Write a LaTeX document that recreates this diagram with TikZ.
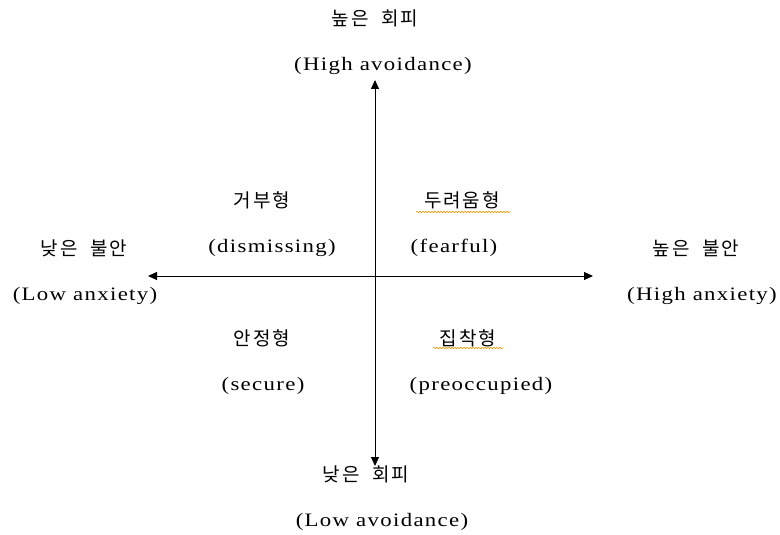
\documentclass[tikz,border=0pt]{standalone}
\usepackage{fontspec}
\setmainfont{Liberation Serif}
\newfontfamily\kor[LetterSpace=10]{Noto Sans CJK KR}
\newfontfamily\lat[LetterSpace=7,FakeStretch=1.2]{Liberation Serif}
\usetikzlibrary{arrows.meta,decorations.pathmorphing}
\tikzset{
  ko/.style={font=\kor\fontsize{19}{22}\selectfont, inner sep=0pt, anchor=center},
  en/.style={font=\lat\fontsize{19}{22}\selectfont, inner sep=0pt, anchor=center},
  axis/.style={line width=1pt, {Triangle[length=9pt,width=8pt]}-{Triangle[length=9pt,width=8pt]}},
  spell/.style={draw=orange!80!yellow, line width=0.6pt, decorate, decoration={snake, amplitude=0.8pt, segment length=3pt}}
}
\newcommand{\wsp}{\hspace{0.65em}}
\begin{document}
\begin{tikzpicture}[x=1pt,y=-1pt]
\useasboundingbox (0,0) rectangle (780,535);
% axes
\coordinate (vtop) at (375,80);
\coordinate (vbot) at (375,466);
\coordinate (hleft) at (148,276);
\coordinate (hright) at (593,276);
\draw[axis] (vbot) -- (vtop);
\draw[axis] (hleft) -- (hright);
% labels
\node[ko] (hiav) at (375,18) {높은\wsp 회피};
\node[en] (hiaven) at (383,66) {(High avoidance)};
\node[ko] (loav) at (366,474) {낮은\wsp 회피};
\node[en] (loaven) at (382,522) {(Low avoidance)};
\node[ko] (loan) at (84,248) {낮은\wsp 불안};
\node[en] (loanen) at (85,296) {(Low anxiety)};
\node[ko] (hian) at (696,248) {높은\wsp 불안};
\node[en] (hianen) at (702,296) {(High anxiety)};
\node[ko] (dis) at (262,200) {거부형};
\node[en] (disen) at (272,248) {(dismissing)};
\node[ko] (fea) at (462,200) {두려움형};
\node[en] (feaen) at (454,248) {(fearful)};
\node[ko] (sec) at (262,338) {안정형};
\node[en] (secen) at (263,386) {(secure)};
\node[ko] (pre) at (468,338) {집착형};
\node[en] (preen) at (481,386) {(preoccupied)};
% spell-check underlines
\coordinate (u1a) at (416,212);
\coordinate (u1b) at (510,212);
\coordinate (u2a) at (433,348);
\coordinate (u2b) at (503,348);
\draw[spell] (u1a) -- (u1b);
\draw[spell] (u2a) -- (u2b);
\end{tikzpicture}
\end{document}
